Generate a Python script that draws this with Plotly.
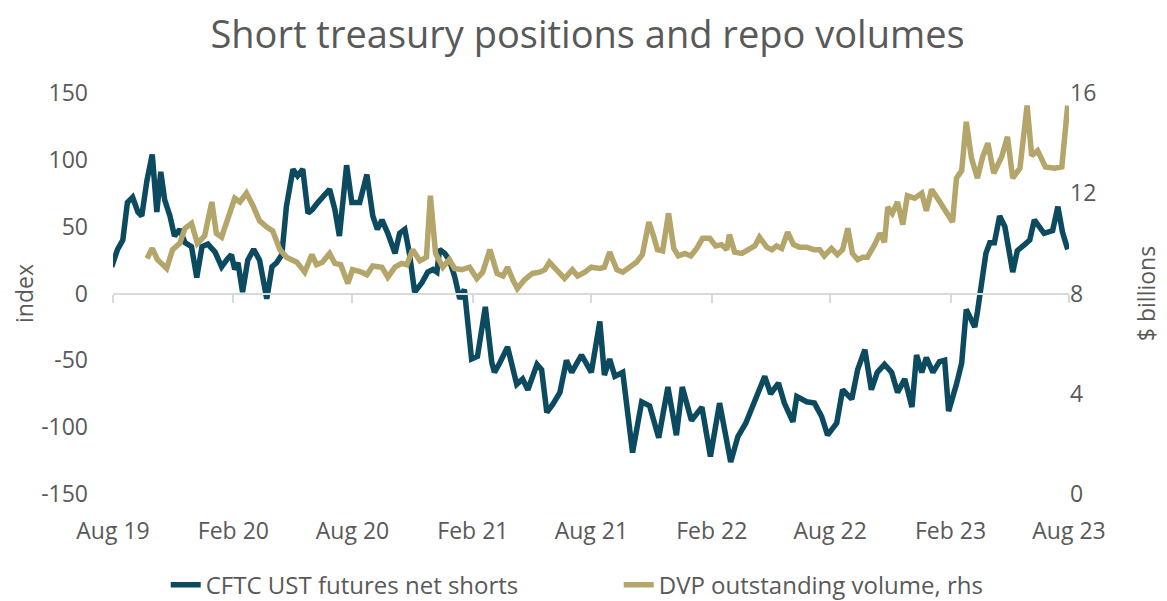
import plotly.graph_objects as go

# CFTC UST futures net shorts (index, left axis)
cftc_dates = [
    "2019-07-30","2019-08-08","2019-08-16","2019-08-23","2019-08-31","2019-09-08","2019-09-14","2019-09-22",
    "2019-09-30","2019-10-07","2019-10-13","2019-10-19","2019-10-27","2019-11-03","2019-11-11","2019-11-19",
    "2019-11-29","2019-12-07","2019-12-15","2019-12-24","2020-01-04","2020-01-14","2020-01-23","2020-01-29",
    "2020-02-03","2020-02-08","2020-02-15","2020-02-23","2020-03-03","2020-03-12","2020-03-23","2020-03-31",
    "2020-04-07","2020-04-15","2020-04-22","2020-05-02","2020-05-09","2020-05-17","2020-05-25","2020-06-01",
    "2020-06-09","2020-06-16","2020-06-27","2020-07-05","2020-07-12","2020-07-23","2020-07-31","2020-08-12",
    "2020-08-23","2020-09-01","2020-09-08","2020-09-15","2020-09-24","2020-10-05","2020-10-12","2020-10-20",
    "2020-10-27","2020-11-04","2020-11-15","2020-11-24","2020-12-02","2020-12-08","2020-12-12","2020-12-20",
    "2020-12-27","2021-01-04","2021-01-12","2021-01-19","2021-01-30","2021-02-08","2021-02-20","2021-03-02",
    "2021-03-06","2021-03-14","2021-03-26","2021-04-09","2021-04-18","2021-04-26","2021-05-10","2021-05-17",
    "2021-05-25","2021-06-03","2021-06-14","2021-06-24","2021-07-02","2021-07-17","2021-07-29","2021-08-01",
    "2021-08-14","2021-08-21","2021-08-29","2021-09-06","2021-09-18","2021-10-03","2021-10-17","2021-10-29",
    "2021-11-12","2021-11-26","2021-12-09","2021-12-18","2022-01-01","2022-01-17","2022-01-30","2022-02-13",
    "2022-03-02","2022-03-13","2022-03-25","2022-04-08","2022-04-23","2022-05-02","2022-05-14","2022-05-23",
    "2022-06-05","2022-06-11","2022-06-26","2022-07-08","2022-07-19","2022-07-28","2022-08-11","2022-08-20",
    "2022-09-03","2022-09-12","2022-09-23","2022-10-03","2022-10-12","2022-10-23","2022-11-03","2022-11-12",
    "2022-11-23","2022-12-04","2022-12-11","2022-12-19","2022-12-26","2023-01-05","2023-01-15","2023-01-23",
    "2023-01-29","2023-02-10","2023-02-18","2023-02-25","2023-03-10","2023-03-14","2023-03-20","2023-03-27",
    "2023-04-02","2023-04-09","2023-04-17","2023-04-25","2023-05-07","2023-05-14","2023-05-26","2023-06-02",
    "2023-06-09","2023-06-24","2023-07-07","2023-07-15","2023-07-22","2023-07-30",
]
cftc_values = [
    20, 33, 40, 68, 72, 61, 58, 85,
    104, 61, 91, 70, 58, 43, 48, 38,
    35, 12, 35, 37, 31, 20, 26, 29,
    18, 23, 1, 25, 33, 25, -4, 20,
    23, 29, 65, 93, 88, 93, 60, 63,
    68, 72, 78, 63, 43, 96, 68, 68,
    89, 58, 48, 55, 45, 30, 45, 48,
    30, 1, 8, 16, 18, 16, 33, 30,
    25, 13, -4, 3, -49, -47, -10, -52,
    -59, -52, -40, -68, -64, -72, -53, -57,
    -89, -83, -74, -50, -59, -46, -55, -59,
    -21, -61, -49, -62, -59, -119, -81, -84,
    -108, -70, -106, -70, -95, -85, -122, -82,
    -126, -107, -97, -79, -62, -75, -67, -82,
    -96, -77, -81, -82, -92, -106, -97, -72,
    -79, -57, -42, -72, -59, -53, -59, -74,
    -64, -85, -46, -59, -48, -59, -51, -50,
    -88, -68, -52, -12, -25, -14, 8, 30,
    38, 38, 58, 50, 16, 32, 37, 40,
    55, 45, 47, 65, 46, 33,
]

# DVP outstanding volume ($ billions, right axis)
dvp_dates = [
    "2019-09-22","2019-09-30","2019-10-08","2019-10-22","2019-10-31","2019-11-11","2019-11-19","2019-11-29",
    "2019-12-08","2019-12-19","2019-12-30","2020-01-06","2020-01-14","2020-01-23","2020-02-03","2020-02-11",
    "2020-02-21","2020-03-02","2020-03-12","2020-03-23","2020-04-01","2020-04-12","2020-04-22","2020-05-08",
    "2020-05-20","2020-05-31","2020-06-07","2020-06-16","2020-06-27","2020-07-05","2020-07-14","2020-07-25",
    "2020-08-01","2020-08-15","2020-08-23","2020-09-01","2020-09-15","2020-09-24","2020-10-05","2020-10-15",
    "2020-10-23","2020-11-01","2020-11-12","2020-11-22","2020-11-28","2020-12-06","2020-12-17","2020-12-27",
    "2021-01-04","2021-01-15","2021-01-27","2021-02-07","2021-02-16","2021-02-27","2021-03-10","2021-03-19",
    "2021-03-26","2021-04-03","2021-04-10","2021-04-21","2021-05-03","2021-05-14","2021-05-22","2021-05-29",
    "2021-06-09","2021-06-21","2021-07-03","2021-07-11","2021-07-22","2021-08-01","2021-08-14","2021-08-21",
    "2021-08-29","2021-09-09","2021-09-18","2021-09-29","2021-10-09","2021-10-18","2021-10-28","2021-11-04",
    "2021-11-10","2021-11-18","2021-11-27","2021-12-05","2021-12-12","2021-12-22","2021-12-31","2022-01-09",
    "2022-01-18","2022-01-29","2022-02-07","2022-02-16","2022-02-24","2022-02-28","2022-03-08","2022-03-19",
    "2022-03-31","2022-04-08","2022-04-15","2022-04-26","2022-05-04","2022-05-11","2022-05-19","2022-05-28",
    "2022-06-06","2022-06-15","2022-06-26","2022-07-07","2022-07-16","2022-07-23","2022-08-03","2022-08-12",
    "2022-08-20","2022-08-28","2022-09-04","2022-09-12","2022-09-20","2022-09-27","2022-10-08","2022-10-16",
    "2022-10-23","2022-10-28","2022-11-04","2022-11-12","2022-11-20","2022-11-27","2022-12-08","2022-12-19",
    "2022-12-26","2023-01-03","2023-01-12","2023-01-20","2023-01-27","2023-02-04","2023-02-10","2023-02-18",
    "2023-02-25","2023-03-05","2023-03-14","2023-03-22","2023-03-30","2023-04-08","2023-04-20","2023-04-29",
    "2023-05-07","2023-05-18","2023-05-29","2023-06-05","2023-06-14","2023-06-26","2023-07-10","2023-07-21",
    "2023-07-30",
]
dvp_values = [
    9.4, 9.8, 9.35, 9.0, 9.75, 10.0, 10.6, 10.8,
    10.0, 10.3, 11.65, 10.4, 10.25, 11.0, 11.8, 11.65,
    12.0, 11.5, 10.9, 10.65, 10.5, 9.75, 9.45, 9.25,
    8.85, 9.55, 9.15, 9.25, 9.6, 9.2, 9.15, 8.4,
    8.95, 8.85, 8.75, 9.1, 9.05, 8.65, 9.05, 9.2,
    9.15, 9.75, 9.3, 9.45, 11.9, 9.6, 9.05, 9.35,
    9.0, 8.95, 9.05, 8.6, 8.85, 9.75, 8.8, 8.7,
    9.05, 8.55, 8.2, 8.55, 8.8, 8.85, 8.95, 9.25,
    8.95, 8.6, 8.95, 8.7, 8.85, 9.05, 9.0, 9.05,
    9.65, 8.95, 8.85, 9.05, 9.25, 9.55, 10.85, 10.3,
    9.75, 9.7, 11.2, 9.8, 9.5, 9.6, 9.5, 9.8,
    10.2, 10.2, 9.9, 9.95, 9.75, 10.35, 9.65, 9.6,
    9.75, 9.9, 10.25, 9.85, 9.75, 9.9, 9.8, 10.45,
    9.95, 9.85, 9.85, 9.75, 9.75, 9.5, 9.8, 9.55,
    9.75, 10.6, 9.6, 9.35, 9.45, 9.45, 9.95, 10.4,
    10.05, 11.45, 11.2, 11.65, 10.75, 11.9, 11.8, 12.0,
    11.3, 12.15, 11.8, 11.45, 11.1, 10.85, 12.6, 12.9,
    14.85, 13.4, 12.6, 13.45, 14.0, 12.8, 13.45, 14.25,
    12.6, 13.0, 15.5, 13.5, 13.7, 13.05, 13.0, 13.05,
    15.5,
]

left_ticks = [-150, -100, -50, 0, 50, 100, 150]
left_tick_text = ["-150", "-100", "-50", "0", "50", "100", "150"]
right_ticks = [0, 4, 8, 12, 16]

TITLE = "Short treasury positions and repo volumes"
NAME_CFTC = "CFTC UST futures net shorts"
NAME_DVP = "DVP outstanding volume, rhs"

BLUE = "#0C4A5F"
GOLD = "#B4A56B"
TXT = "#595959"
FONT = "Open Sans"

fig = go.Figure()
fig.add_trace(go.Scatter(x=cftc_dates, y=cftc_values, name=NAME_CFTC, mode="lines",
                         line=dict(color=BLUE, width=5.5), yaxis="y"))
fig.add_trace(go.Scatter(x=dvp_dates, y=dvp_values, name=NAME_DVP, mode="lines",
                         line=dict(color=GOLD, width=5.5), yaxis="y2"))

# page body has an 8px default margin, so the figure origin sits at (8, 8)
fig.update_layout(
    width=1159, height=593,
    margin=dict(l=105, r=98, t=85, b=107, autoexpand=False),
    paper_bgcolor="white", plot_bgcolor="white",
    font=dict(family=FONT, color=TXT, size=20),
    title=dict(text=TITLE, x=0.5, xanchor="center", xref="container",
               y=1 - 27 / 593, yanchor="middle", yref="container",
               font=dict(family=FONT, size=38, color=TXT)),
    showlegend=True,
    legend=dict(orientation="h", x=0.529, xanchor="center", y=-0.227, yanchor="middle",
                font=dict(family=FONT, size=24, color=TXT), entrywidth=408,
                bgcolor="rgba(0,0,0,0)"),
    xaxis=dict(type="date", range=["2019-08-01", "2023-08-01"],
               tick0="2019-08-01", dtick="M6", tickformat="%b %y",
               anchor="free", position=0.5, automargin=False,
               showline=True, linecolor="#D9D9D9", linewidth=2,
               ticks="outside", ticklen=8, tickwidth=2, tickcolor="#D9D9D9",
               showgrid=False, zeroline=False,
               ticklabelstandoff=209,
               tickfont=dict(family=FONT, size=23, color=TXT)),
    yaxis=dict(range=[-150, 150], tickvals=left_ticks, ticktext=left_tick_text,
               showgrid=False, zeroline=False, automargin=False,
               showline=False, ticks="", ticklabelstandoff=24,
               title=dict(text="index", standoff=16, font=dict(family=FONT, size=23, color=TXT)),
               tickfont=dict(family=FONT, size=23, color=TXT)),
    yaxis2=dict(range=[0, 16], tickvals=right_ticks, overlaying="y", side="right",
                showgrid=False, zeroline=False, showline=False, ticks="", automargin=False,
                title=dict(text="$ billions", standoff=43, font=dict(family=FONT, size=23, color=TXT)),
                tickfont=dict(family=FONT, size=23, color=TXT)),
)

fig.write_html("out.html")
